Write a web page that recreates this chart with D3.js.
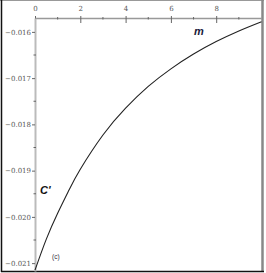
<!DOCTYPE html>
<html>
<head>
<meta charset="utf-8">
<script src="https://cdn.jsdelivr.net/npm/d3@7"></script>
<style>
  body { margin: 0; background: #fff; }
  svg { display: block; }
  .tick text { font-family: "DejaVu Serif", serif; font-size: 7px; fill: #555; }
</style>
</head>
<body>
<svg width="266" height="273"></svg>
<script>
// values
const mValues = [0, 0.5, 1, 1.5, 2, 3, 4, 5, 6, 7, 8, 9, 10];
const cValues = [-0.02115, -0.02048, -0.01992, -0.01942, -0.01897, -0.01823, -0.01765,
                 -0.01718, -0.01680, -0.01648, -0.01621, -0.01598, -0.01578];
const xTicks = [0, 2, 4, 6, 8];
const yTicks = [-0.016, -0.017, -0.018, -0.019, -0.020, -0.021];

const svg = d3.select("svg");

const x = d3.scaleLinear().domain([0, 10]).range([35, 261.5]);
const y = d3.scaleLinear().domain([-0.0157, -0.02117]).range([18, 271]);

// frame
svg.append("line").attr("x1", 0).attr("x2", 264).attr("y1", 0.5).attr("y2", 0.5)
  .attr("stroke", "#999").attr("stroke-width", 1);
svg.append("line").attr("x1", 1.5).attr("x2", 1.5).attr("y1", 0).attr("y2", 272)
  .attr("stroke", "#111").attr("stroke-width", 1.5);
svg.append("line").attr("x1", 262.5).attr("x2", 262.5).attr("y1", 0).attr("y2", 272)
  .attr("stroke", "#888").attr("stroke-width", 2.5);
svg.append("line").attr("x1", 1).attr("x2", 264).attr("y1", 271.5).attr("y2", 271.5)
  .attr("stroke", "#111").attr("stroke-width", 1.5);

// minor ticks
const xMinor = d3.range(1, 10, 2);
const yMinor = d3.range(-0.0165, -0.0212, -0.001);

const xAxis = svg.append("g").attr("transform", `translate(0,${y(-0.0157)})`)
  .call(d3.axisTop(x).tickValues(xTicks).tickFormat(d3.format("d")).tickSize(2.5).tickSizeOuter(0));
xAxis.select(".domain").attr("stroke", "#999").attr("stroke-width", 1.5);
xAxis.selectAll(".tick line").attr("stroke", "#666").attr("y2", 5).attr("y1", -2);
xAxis.selectAll(".tick text").attr("dy", "-0.2em");
xAxis.selectAll(".minor").data(xMinor).enter().append("line")
  .attr("x1", d => x(d)).attr("x2", d => x(d)).attr("y1", -1).attr("y2", 1.5)
  .attr("stroke", "#666");

const yAxis = svg.append("g").attr("transform", `translate(${x(0)},0)`)
  .call(d3.axisLeft(y).tickValues(yTicks).tickFormat(d => "\u2212" + d3.format(".3f")(-d)).tickSize(3).tickSizeOuter(0));
yAxis.select(".domain").attr("stroke", "#bbb").attr("stroke-width", 2);
yAxis.selectAll(".tick line").attr("stroke", "#666");
yAxis.selectAll(".tick text").attr("x", -4);
yAxis.selectAll(".minor").data(yMinor).enter().append("line")
  .attr("x1", -1.5).attr("x2", 1).attr("y1", d => y(d)).attr("y2", d => y(d))
  .attr("stroke", "#666");

// curve
const pts = mValues.map((m, i) => [m, cValues[i]]);
svg.append("path").datum(pts)
  .attr("fill", "none").attr("stroke", "#222").attr("stroke-width", 1.1)
  .attr("d", d3.line().x(d => x(d[0])).y(d => y(d[1])).curve(d3.curveNatural));

// labels
svg.append("text").attr("x", 194).attr("y", 35).text("m")
  .attr("font-family", "Liberation Sans, Arial, sans-serif").attr("font-size", 11)
  .attr("font-weight", "bold").attr("font-style", "italic").attr("fill", "#1a1a3a");
svg.append("text").attr("x", 40).attr("y", 194).text("C'")
  .attr("font-family", "Liberation Sans, Arial, sans-serif").attr("font-size", 11)
  .attr("font-weight", "bold").attr("font-style", "italic").attr("fill", "#111");
svg.append("text").attr("x", 52).attr("y", 259).text("(c)")
  .attr("font-family", "Liberation Sans, Arial, sans-serif").attr("font-size", 6.5)
  .attr("fill", "#334");
</script>
</body>
</html>
